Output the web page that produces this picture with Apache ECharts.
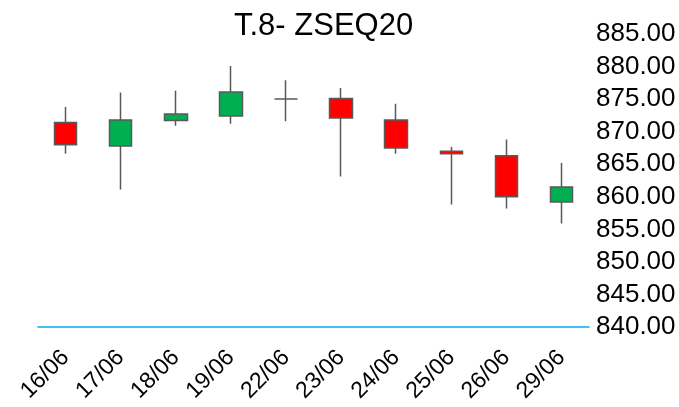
<!DOCTYPE html>
<html>
<head>
<meta charset="utf-8">
<script src="https://cdn.jsdelivr.net/npm/echarts@6/dist/echarts.min.js"></script>
<style>html,body{margin:0;padding:0;background:#fff}#c{width:679px;height:407px}</style>
</head>
<body>
<div id="c"></div>
<script>
const categories = ['16/06','17/06','18/06','19/06','22/06','23/06','24/06','25/06','26/06','29/06'];
// [open, close, low, high]
const openVals  = [871.4, 867.8, 871.7, 872.4, 875.0, 875.1, 871.8, 867.0, 866.3, 859.2];
const closeVals = [868.0, 871.8, 872.7, 876.1, 875.0, 872.1, 867.5, 866.6, 860.0, 861.5];
const lowVals   = [866.6, 861.1, 870.9, 871.2, 871.6, 863.1, 866.6, 858.8, 858.2, 855.9];
const highVals  = [873.8, 876.0, 876.3, 880.1, 877.9, 876.7, 874.3, 867.7, 868.8, 865.2];
const yTicks = { min: 840, max: 885, interval: 5 };

const data = categories.map((c, i) => [openVals[i], closeVals[i], lowVals[i], highVals[i]]);
const chart = echarts.init(document.getElementById('c'), null, { renderer: 'canvas' });
const font = 'Liberation Sans, Arial, sans-serif';
chart.setOption({
  animation: false,
  backgroundColor: '#ffffff',
  title: {
    text: 'T.8- ZSEQ20', left: 229, top: 6,
    textStyle: { fontFamily: font, fontSize: 31, fontWeight: 'normal', color: '#000' }
  },
  grid: { left: 38, right: 90, top: 34, bottom: 80 },
  xAxis: {
    type: 'category', data: categories, boundaryGap: true,
    axisLine: { show: true, lineStyle: { color: '#00b0f0', width: 1.6 } },
    axisTick: { show: false },
    axisLabel: { rotate: 45, fontFamily: font, fontSize: 23, color: '#000', margin: 27, interval: 0 },
    splitLine: { show: false }
  },
  yAxis: {
    type: 'value', position: 'right', min: yTicks.min, max: yTicks.max, interval: yTicks.interval,
    axisLine: { show: false }, axisTick: { show: false },
    splitLine: { show: false },
    axisLabel: { fontFamily: font, fontSize: 26, color: '#000', margin: 7, formatter: v => v.toFixed(2) }
  },
  series: [{
    type: 'candlestick', data: data, barWidth: 23,
    itemStyle: {
      color: '#00b050', color0: '#ff0000',
      borderColor: '#595959', borderColor0: '#595959', borderColorDoji: '#595959',
      borderWidth: 1.5
    }
  }]
});
</script>
</body>
</html>
